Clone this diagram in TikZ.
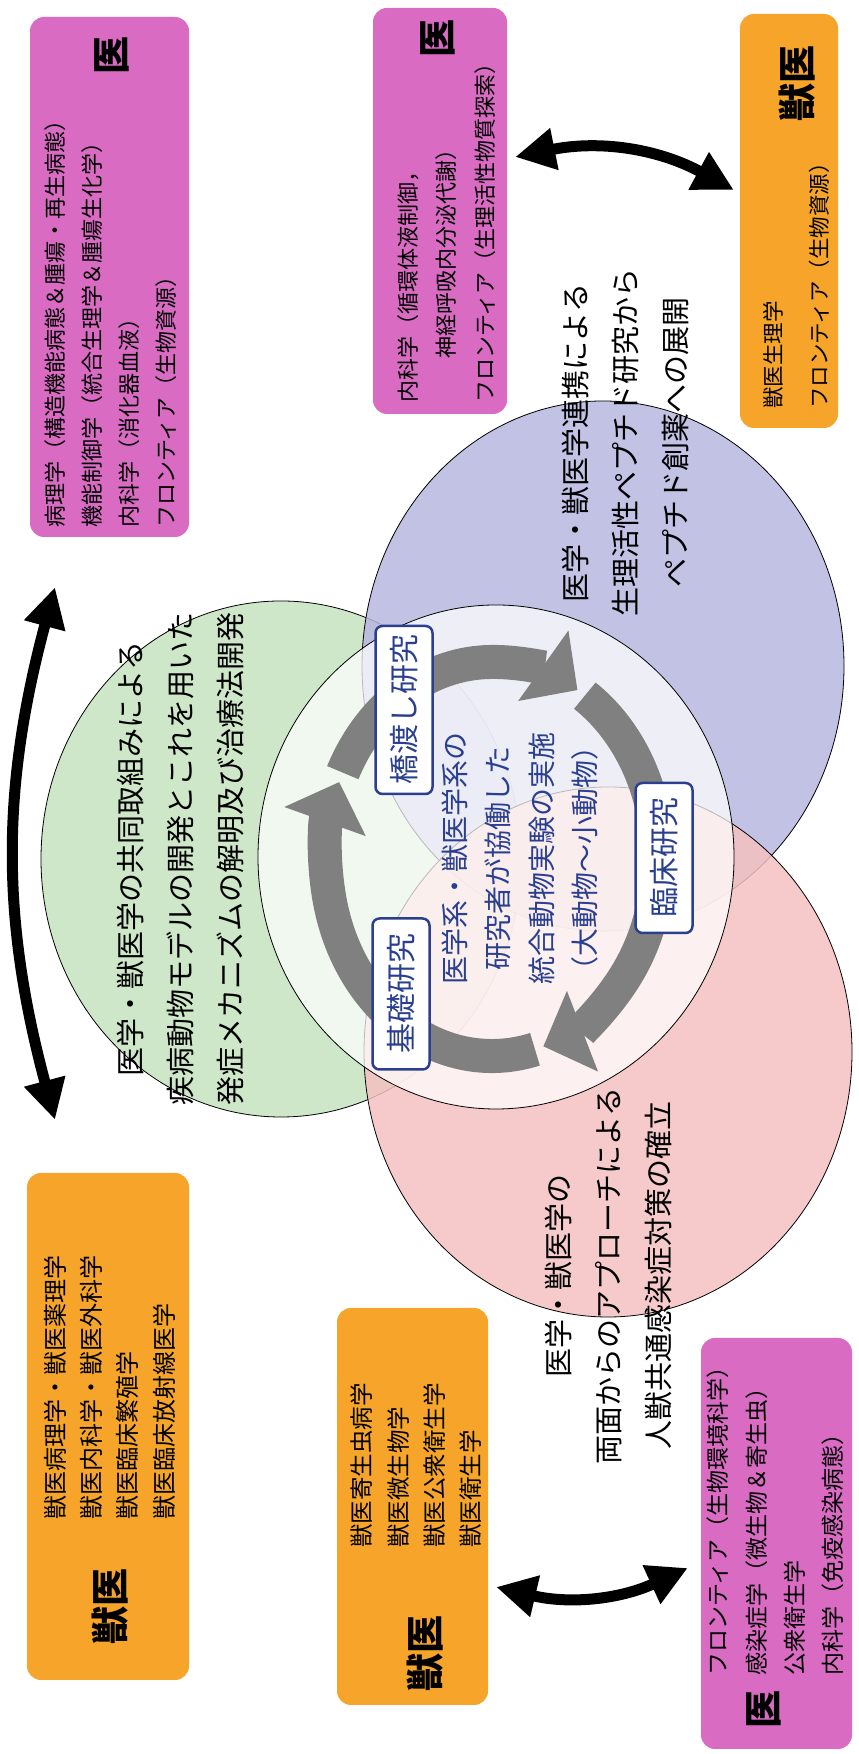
\documentclass[tikz,border=0pt]{standalone}
\usepackage{fontspec}
\usepackage{tikz}
\usetikzlibrary{calc}
\usetikzlibrary{arrows.meta}
\setmainfont{Noto Sans CJK JP}
\definecolor{ddppcc}{rgb}{0.851,0.42,0.765}
\definecolor{ffaaqq}{rgb}{0.965,0.647,0.165}
\definecolor{cceecc}{rgb}{0.776,0.89,0.753}
\definecolor{bbbbee}{rgb}{0.718,0.718,0.878}
\definecolor{ffcccc}{rgb}{0.957,0.757,0.757}
\definecolor{ududud}{rgb}{0.5,0.5,0.5}
\definecolor{qqddss}{rgb}{0.165,0.247,0.561}
\tikzstyle{every node}=[inner sep=0pt]
\tikzstyle{medbox}=[rounded corners=14pt,fill=ddppcc]
\tikzstyle{vetbox}=[rounded corners=14pt,fill=ffaaqq]
\tikzstyle{boxtitle}=[font=\fontsize{38}{40}\selectfont\bfseries]
\tikzstyle{boxlines}=[anchor=west,align=left]
\tikzstyle{circletext}=[align=center,font=\fontsize{29}{50}\selectfont]
\tikzstyle{ringbox}=[draw=qqddss,line width=2.5pt,fill=white,rounded corners=7pt,text=qqddss,font=\fontsize{30}{32}\selectfont,minimum height=57pt]
\tikzstyle{blackarrow}=[line width=11pt,{Triangle[length=40pt,width=40pt]}-{Triangle[length=40pt,width=40pt]}]
\tikzstyle{ringarrow}=[line width=34pt,color=ududud,-{Triangle[length=42pt,width=84pt]}]
\begin{document}
\begin{tikzpicture}[line join=round,x=1pt,y=1pt,rotate=90,transform shape]
\useasboundingbox (0,0) rectangle (1754,-859);
% three fields and the shared centre
\draw [line width=0.8pt,fill=cceecc,fill opacity=0.85] (895,-281) ellipse [x radius=258,y radius=240];
\draw [line width=0.8pt,fill=bbbbee,fill opacity=0.85] (1088,-603) ellipse [x radius=265,y radius=241];
\draw [line width=0.8pt,fill=ffcccc,fill opacity=0.85] (702,-608) ellipse [x radius=265,y radius=244];
\draw [line width=0.8pt,fill=white,fill opacity=0.72] (897,-496) ellipse [x radius=252,y radius=238];
% cycle
\coordinate (O) at (895,-492);
\draw [ringarrow] ($(O)+(195:197 and 166)$) arc [start angle=195,end angle=67,x radius=197,y radius=166];
\draw [ringarrow] ($(O)+(64:197 and 166)$) arc [start angle=64,end angle=-31,x radius=197,y radius=166];
\draw [ringarrow] ($(O)+(-34:197 and 166)$) arc [start angle=-34,end angle=-162,x radius=197,y radius=166];
\node[ringbox,minimum width=151pt] (K) at (760,-401) {基礎研究};
\node[ringbox,minimum width=168pt] (H) at (1044,-404) {橋渡し研究};
\node[ringbox,minimum width=150pt] (R) at (896,-664) {臨床研究};
\node[align=center,text=qqddss,font=\fontsize{28}{43.5}\selectfont] (center) at (895,-520) {医学系・獣医学系の\\研究者が協働した\\統合動物実験の実施\\（大動物～小動物）};
\node[circletext] (green) at (895,-181) {医学・獣医学の共同取組みによる\\疾病動物モデルの開発とこれを用いた\\発症メカニズムの解明及び治療法開発};
\node[circletext] (blue) at (1311,-625) {医学・獣医学連携による\\生理活性ペプチド研究から\\ペプチド創薬への展開};
\node[circletext] (pink) at (478,-608) {医学・獣医学の\\両面からのアプローチによる\\人獣共通感染症対策の確立};
% boxes
\node[medbox,minimum width=520pt,minimum height=159pt] (A) at (1477,-109.5) {};
\node[boxtitle] (At) at (1698,-112) {医};
\node[boxlines,font=\fontsize{22}{37}\selectfont] (Al) at (1226,-111) {病理学（構造機能病態＆腫瘍・再生病態）\\機能制御学（統合生理学＆腫瘍生化学）\\内科学（消化器血液）\\フロンティア（生物資源）};
\node[medbox,minimum width=406pt,minimum height=134pt] (B) at (1543,-440) {};
\node[boxtitle] (Bt) at (1715,-438) {医};
\node[boxlines,font=\fontsize{22}{38.5}\selectfont] (Bl) at (1351,-446.5) {内科学（循環体液制御，\\\hspace*{2em}神経呼吸内分泌代謝）\\フロンティア（生理活性物質探索）};
\node[vetbox,minimum width=414pt,minimum height=98pt] (C) at (1533,-789) {};
\node[boxtitle] (Ct) at (1670,-797) {獣医};
\node[boxlines,font=\fontsize{21.5}{46}\selectfont] (Cl) at (1345,-796) {獣医生理学\\フロンティア（生物資源）};
\node[vetbox,minimum width=507pt,minimum height=162pt] (D) at (327.5,-108) {};
\node[boxtitle] (Dt) at (147,-110) {獣医};
\node[boxlines,font=\fontsize{24}{36.3}\selectfont] (Dl) at (234,-109.5) {獣医病理学・獣医薬理学\\獣医内科学・獣医外科学\\獣医臨床繁殖学\\獣医臨床放射線医学};
\node[vetbox,minimum width=397pt,minimum height=151pt] (E) at (247.5,-412.5) {};
\node[boxtitle] (Et) at (100,-425) {獣医};
\node[boxlines,font=\fontsize{23.5}{36.3}\selectfont] (El) at (206,-416.5) {獣医寄生虫病学\\獣医微生物学\\獣医公衆衛生学\\獣医衛生学};
\node[medbox,minimum width=411pt,minimum height=151pt] (F) at (210.5,-776.5) {};
\node[boxtitle] (Ft) at (44,-764) {医};
\node[boxlines,font=\fontsize{23}{38.3}\selectfont] (Fl) at (78,-775.5) {フロンティア（生物環境科学）\\感染症学（微生物＆寄生虫）\\公衆衛生学\\内科学（免疫感染病態）};
% exchanges
\draw [blackarrow] ($(D.east)+(53,53)$) to[bend left=15] ($(A.west)+(-50,54.5)$);
\draw [blackarrow] ($(B.south)+(54,-8)$) to[bend left=20] ($(C.north)+(31,6)$);
\draw [blackarrow] ($(E.south)+(-80.5,-8)$) to[bend right=19] ($(F.north)+(-24.5,13)$);
\end{tikzpicture}
\end{document}
